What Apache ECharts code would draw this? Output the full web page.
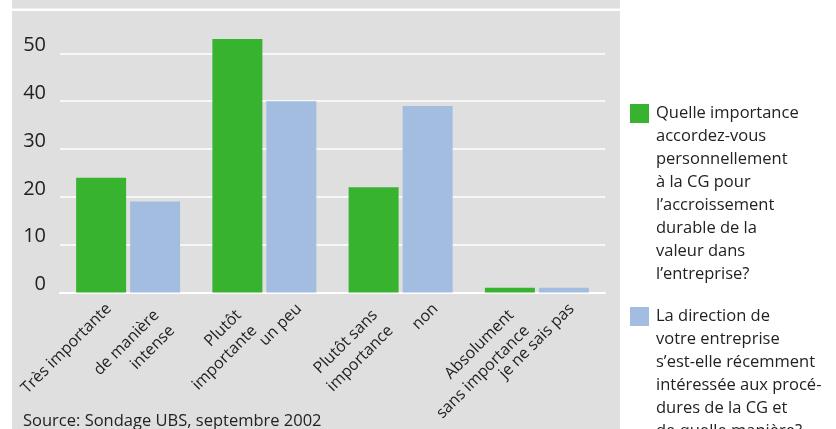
<!DOCTYPE html>
<html>
<head>
<meta charset="utf-8">
<script src="https://cdn.jsdelivr.net/npm/echarts@6/dist/echarts.min.js"></script>
<style>
html,body{margin:0;padding:0;background:#fff;}
#chart{width:836px;height:429px;}
</style>
</head>
<body>
<div id="chart"></div>
<script>
// ---- data ----
const groupCategories = ['Très importante / de manière intense', 'Plutôt importante / un peu', 'Plutôt sans importance / non', 'Absolument sans importance / je ne sais pas'];
const importanceLabels = ['Très importante', 'Plutôt\nimportante', 'Plutôt sans\nimportance', 'Absolument\nsans importance'];
const directionLabels = ['de manière\nintense', 'un peu', 'non', 'je ne sais pas'];
const importanceValues = [24, 53, 22, 1];
const directionValues = [19, 40, 39, 1];
const importanceLegendLines = ['Quelle importance', 'accordez-vous', 'personnellement', 'à la CG pour', 'l’accroissement', 'durable de la', 'valeur dans', 'l’entreprise?'];
const directionLegendLines = ['La direction de', 'votre entreprise', 's’est-elle récemment', 'intéressée aux procé-', 'dures de la CG et', 'de quelle manière?'];
const yTicks = [0, 10, 20, 30, 40, 50];
const sourceText = 'Source: Sondage UBS, septembre 2002';

const GREEN = '#37B32F';
const BLUE = '#A3BDE1';
const PANEL = '#DFDFDF';
const TEXT = '#222222';
const FONT = '"Open Sans", "Noto Sans", sans-serif';

const importanceName = importanceLegendLines.join(' ');
const directionName = directionLegendLines.join(' ');

function legendRich(lines, key) {
  return lines.map((l, i) => (i === 0 ? '{' + key + '|}{gap|}' : '{ind|}') + '{t|' + l + '}').join('\n');
}
const richCommon = {
  g: { width: 19, height: 19, backgroundColor: GREEN, lineHeight: 23 },
  b: { width: 19, height: 19, backgroundColor: BLUE, lineHeight: 23 },
  gap: { width: 7, lineHeight: 23 },
  ind: { width: 26, lineHeight: 23 },
  t: { fontSize: 16.5, lineHeight: 23, color: TEXT, fontFamily: FONT }
};

const barLabelCommon = {
  show: true,
  position: 'bottom',
  distance: 6,
  rotate: 45,
  align: 'right',
  verticalAlign: 'top',
  fontSize: 16,
  lineHeight: 22,
  color: TEXT,
  fontFamily: FONT
};

// multi-line labels sit a little further left than single-line ones
function barData(values, labels) {
  return values.map((v, i) => ({
    value: v,
    label: { formatter: labels[i], offset: [labels[i].indexOf('\n') >= 0 ? -9 : 0, 0] }
  }));
}

const chart = echarts.init(document.getElementById('chart'), null, { renderer: 'canvas' });
chart.setOption({
  animation: false,
  backgroundColor: '#ffffff',
  textStyle: { fontFamily: FONT },
  graphic: [
    { type: 'rect', z: -100, shape: { x: 12, y: 0, width: 608, height: 429 }, style: { fill: PANEL } },
    { type: 'rect', z: -99, shape: { x: 12, y: 8.5, width: 608, height: 2.5 }, style: { fill: '#ffffff' } }
  ],
  title: {
    text: sourceText,
    left: 18,
    top: 408,
    textStyle: { fontSize: 16.5, fontWeight: 'normal', color: TEXT, fontFamily: FONT }
  },
  legend: [
    {
      data: [importanceName],
      orient: 'vertical',
      left: 625,
      top: 104,
      padding: 0,
      icon: 'rect',
      itemWidth: 0,
      itemHeight: 0,
      selectedMode: false,
      formatter: () => legendRich(importanceLegendLines, 'g'),
      textStyle: { rich: richCommon }
    },
    {
      data: [directionName],
      orient: 'vertical',
      left: 625,
      top: 307,
      padding: 0,
      icon: 'rect',
      itemWidth: 0,
      itemHeight: 0,
      selectedMode: false,
      formatter: () => legendRich(directionLegendLines, 'b'),
      textStyle: { rich: richCommon }
    }
  ],
  grid: { left: 60, right: 231, top: 29.4, bottom: 136.5, containLabel: false },
  xAxis: {
    type: 'category',
    data: groupCategories,
    axisLine: { show: true, lineStyle: { color: '#ffffff', width: 2 } },
    axisTick: { show: false },
    axisLabel: { show: false },
    splitLine: { show: false }
  },
  yAxis: {
    type: 'value',
    min: 0,
    max: 55,
    interval: 10,
    axisLine: { show: false },
    axisTick: { show: false },
    axisLabel: {
      showMaxLabel: false,
      fontSize: 20,
      color: TEXT,
      fontFamily: FONT,
      margin: 14,
      verticalAlign: 'bottom',
      lineHeight: 16,
      formatter: (v) => (yTicks.indexOf(v) >= 0 ? String(v) : '')
    },
    splitLine: { show: true, showMaxLine: false, lineStyle: { color: '#ffffff', width: 1.5 } }
  },
  series: [
    {
      name: importanceName,
      type: 'bar',
      data: barData(importanceValues, importanceLabels),
      barWidth: 50,
      barGap: '8%',
      itemStyle: { color: GREEN },
      label: barLabelCommon
    },
    {
      name: directionName,
      type: 'bar',
      data: barData(directionValues, directionLabels),
      barWidth: 50,
      barGap: '8%',
      itemStyle: { color: BLUE },
      label: barLabelCommon
    }
  ]
});
</script>
</body>
</html>
